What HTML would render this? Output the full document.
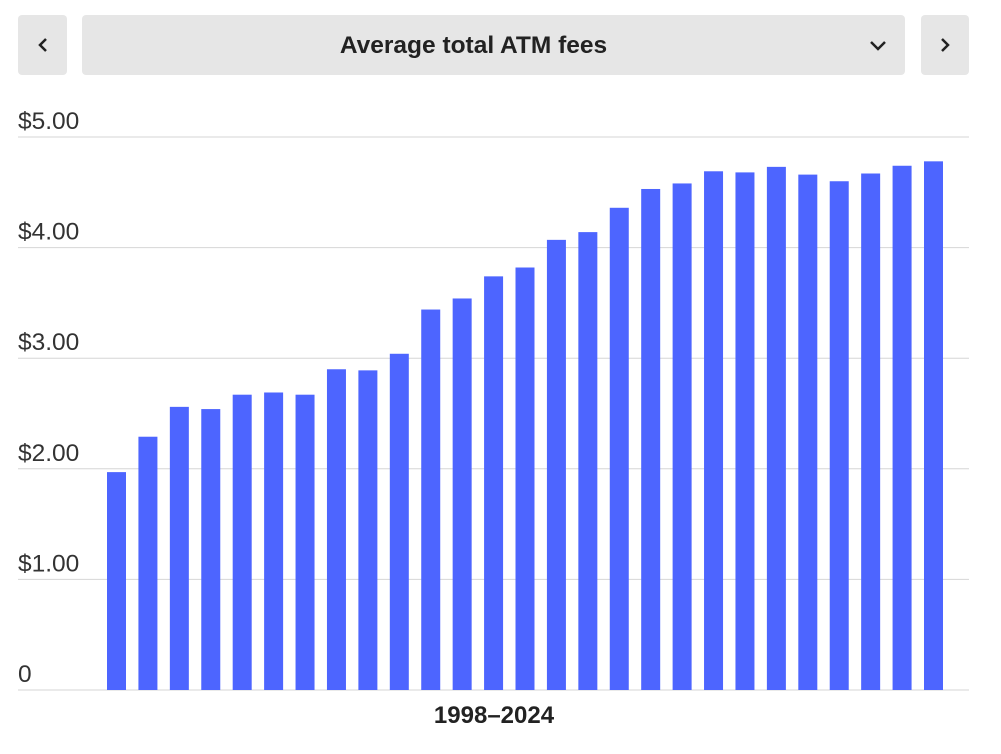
<!DOCTYPE html>
<html><head><meta charset="utf-8"><style>
body{margin:0;width:1001px;height:754px;background:#fff;font-family:"Liberation Sans",Arial,sans-serif;overflow:hidden;position:relative}
.btn{position:absolute;top:15px;height:60px;background:#e6e6e6;border-radius:4px;display:flex;align-items:center;justify-content:center;color:#222}
</style></head><body>
<div class="btn" style="left:18px;width:49px">
<svg width="14" height="16" viewBox="0 0 14 16"><path d="M10 2 L4 8 L10 14" stroke="#222" stroke-width="2.5" fill="none"/></svg></div>
<div class="btn" style="left:82px;width:783px;padding-right:40px;font-weight:bold;font-size:24.5px;padding-top:2px;height:58px">
<span>Average total ATM fees</span>
<svg style="position:absolute;right:18px;top:25px" width="18" height="12" viewBox="0 0 18 12"><path d="M2 2 L9 9 L16 2" stroke="#222" stroke-width="2.5" fill="none"/></svg></div>
<div class="btn" style="left:921px;width:48px">
<svg width="14" height="16" viewBox="0 0 14 16"><path d="M4 2 L10 8 L4 14" stroke="#222" stroke-width="2.5" fill="none"/></svg></div>
<svg id="chart" width="1001" height="754" style="position:absolute;left:0;top:0"></svg>
<script>
const years=[1998,1999,2000,2001,2002,2003,2004,2005,2006,2007,2008,2009,2010,2011,2012,2013,2014,2015,2016,2017,2018,2019,2020,2021,2022,2023,2024];
const fees=[1.97,2.29,2.56,2.54,2.67,2.69,2.67,2.90,2.89,3.04,3.44,3.54,3.74,3.82,4.07,4.14,4.36,4.53,4.58,4.69,4.68,4.73,4.66,4.60,4.67,4.74,4.78];
const tickValues=[0,1,2,3,4,5];
const tickLabels=["0","$1.00","$2.00","$3.00","$4.00","$5.00"];
const xLabel="1998–2024";
const svg=document.getElementById('chart');const NS='http://www.w3.org/2000/svg';
const y0=690,pxPer=110.6;
const y=v=>y0-v*pxPer;
const x=i=>107+i*(924-107)/(years.length-1);
function mk(t,a){const e=document.createElementNS(NS,t);for(const k in a)e.setAttribute(k,a[k]);svg.appendChild(e);return e;}
tickValues.forEach((v,i)=>{
const l=mk('line',{x1:18,x2:969,y1:y(v),y2:y(v),stroke:'#d6d6d6','stroke-width':1});


const t=mk('text',{x:18,y:y(v)-8,'font-size':24.5,fill:'#333','font-family':'Liberation Sans, sans-serif'});
t.textContent=tickLabels[i];


});
fees.forEach((v,i)=>{
const r=mk('rect',{x:x(i),y:y(v),width:19,height:v*pxPer,fill:'#4d65ff'});


});
const xl=mk('text',{x:494,y:723,'font-size':24,'font-weight':'bold','text-anchor':'middle',fill:'#222','font-family':'Liberation Sans, sans-serif'});
xl.textContent=xLabel;


</script>
</body></html>
